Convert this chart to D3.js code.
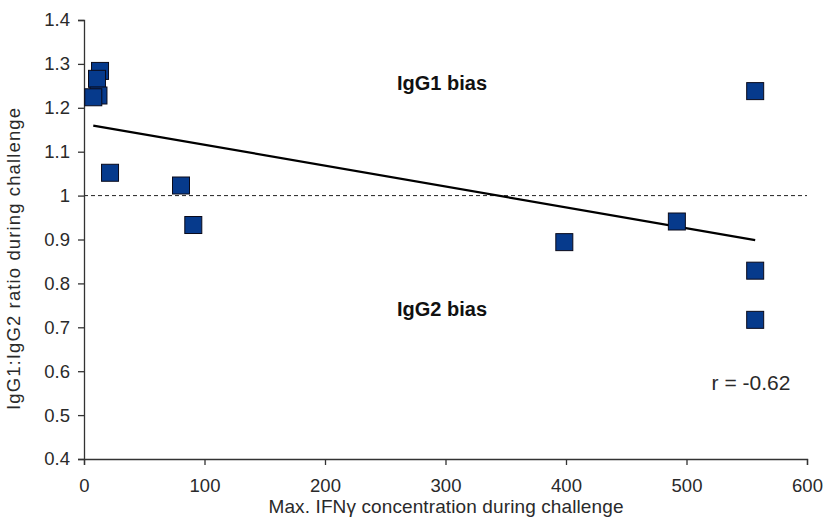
<!DOCTYPE html>
<html>
<head>
<meta charset="utf-8">
<script src="https://cdn.jsdelivr.net/npm/d3@7"></script>
<style>
  html, body { margin: 0; padding: 0; background: #fff; }
  svg { display: block; font-family: "Liberation Sans", Arial, sans-serif; }
</style>
</head>
<body>
<svg id="chart" width="828" height="518"></svg>
<script>
// Max. IFN-gamma concentration and IgG1:IgG2 ratio per animal
const ifnMax = [13.3, 10.8, 12, 7.7, 21.6, 80.5, 90.7, 398.6, 492, 557, 557, 557];
const igRatio = [1.284, 1.266, 1.228, 1.224, 1.052, 1.023, 0.933, 0.894, 0.941, 1.238, 0.829, 0.717];

const xTicks = [0, 100, 200, 300, 400, 500, 600];
const yTicks = [0.4, 0.5, 0.6, 0.7, 0.8, 0.9, 1, 1.1, 1.2, 1.3, 1.4];

const svg = d3.select("#chart");
const plotLeft = 84, plotRight = 807, plotTop = 20, plotBottom = 459;

const x = d3.scaleLinear().domain([0, 600]).range([plotLeft, plotRight]);
const y = d3.scaleLinear().domain([0.4, 1.4]).range([plotBottom, plotTop]);

const axisColor = "#333";
const textColor = "#2a2a2a";

// least-squares trend line
const n = ifnMax.length;
const mx = d3.mean(ifnMax), my = d3.mean(igRatio);
let sxy = 0, sxx = 0, syy = 0;
for (let i = 0; i < n; i++) {
  const dx = ifnMax[i] - mx, dy = igRatio[i] - my;
  sxy += dx * dy; sxx += dx * dx; syy += dy * dy;
}
const slope = sxy / sxx;
const intercept = my - slope * mx;
const r = sxy / Math.sqrt(sxx * syy);

// reference line at ratio 1
svg.append("line")
  .attr("x1", x(0)).attr("x2", x(600))
  .attr("y1", y(1)).attr("y2", y(1))
  .attr("stroke", "#222").attr("stroke-width", 1)
  .attr("stroke-dasharray", "4,3");

const xMin = d3.min(ifnMax), xMax = d3.max(ifnMax);
svg.append("line")
  .attr("x1", x(xMin)).attr("y1", y(intercept + slope * xMin))
  .attr("x2", x(xMax)).attr("y2", y(intercept + slope * xMax))
  .attr("stroke", "#000").attr("stroke-width", 2.2);

// axes
const xAxis = svg.append("g")
  .attr("transform", `translate(0,${plotBottom})`)
  .call(d3.axisBottom(x).tickValues(xTicks).tickSizeOuter(0).tickSize(6).tickPadding(14).tickFormat(d3.format("d")));
const yAxis = svg.append("g")
  .attr("transform", `translate(${plotLeft},0)`)
  .call(d3.axisLeft(y).tickValues(yTicks).tickSizeOuter(0).tickSize(6).tickPadding(8).tickFormat(d => String(+d.toFixed(1))));

[xAxis, yAxis].forEach(g => {
  g.select(".domain").attr("stroke", axisColor).attr("stroke-width", 1.3);
  g.selectAll(".tick line").attr("stroke", axisColor).attr("stroke-width", 1.3);
  g.selectAll(".tick text")
    .attr("fill", textColor)
    .style("font-size", "18.5px")
    .style("font-family", "'Liberation Sans', Arial, sans-serif");
});

// data points
const size = 17;
svg.append("g").selectAll("rect")
  .data(ifnMax.map((v, i) => [v, igRatio[i]]))
  .join("rect")
  .attr("x", d => x(d[0]) - size / 2)
  .attr("y", d => y(d[1]) - size / 2)
  .attr("width", size).attr("height", size)
  .attr("fill", "#063a8c")
  .attr("stroke", "#0a0a1a").attr("stroke-width", 1);

// annotations
svg.append("text")
  .attr("x", 442).attr("y", 90)
  .attr("text-anchor", "middle")
  .attr("font-weight", "bold").attr("font-size", 20)
  .attr("fill", "#111")
  .text("IgG1 bias");
svg.append("text")
  .attr("x", 442).attr("y", 316)
  .attr("text-anchor", "middle")
  .attr("font-weight", "bold").attr("font-size", 20)
  .attr("fill", "#111")
  .text("IgG2 bias");
svg.append("text")
  .attr("x", 751).attr("y", 390)
  .attr("text-anchor", "middle")
  .attr("font-size", 21)
  .attr("fill", textColor)
  .text("r = " + r.toFixed(2));

// axis titles
svg.append("text")
  .attr("x", 446).attr("y", 513)
  .attr("text-anchor", "middle")
  .attr("font-size", 19)
  .attr("textLength", 355).attr("lengthAdjust", "spacing")
  .attr("fill", textColor)
  .text("Max. IFNγ concentration during challenge");
svg.append("text")
  .attr("transform", "translate(20,259) rotate(-90)")
  .attr("text-anchor", "middle")
  .attr("font-size", 18.5)
  .attr("textLength", 302).attr("lengthAdjust", "spacing")
  .attr("fill", textColor)
  .text("IgG1:IgG2 ratio during challenge");
</script>
</body>
</html>
